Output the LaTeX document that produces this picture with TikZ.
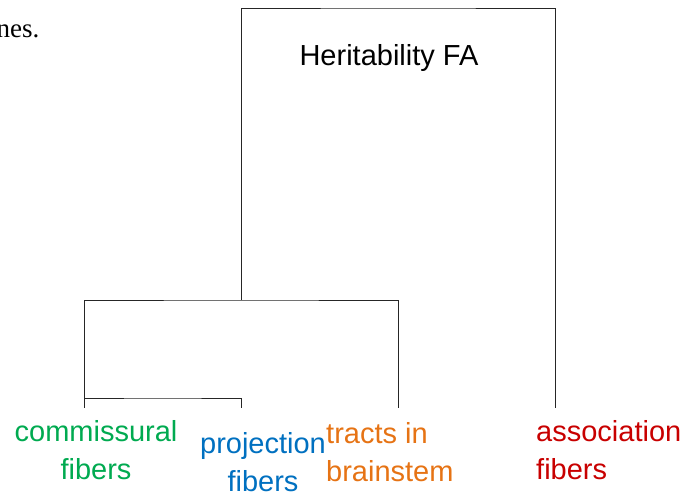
\documentclass[tikz,border=0pt]{standalone}
\usepackage{fontspec}
\setmainfont{Liberation Sans}
\newfontfamily\serifpart{Liberation Serif}
\definecolor{cgreen}{RGB}{0,170,80}
\definecolor{cblue}{RGB}{0,112,192}
\definecolor{corange}{RGB}{230,115,20}
\definecolor{cred}{RGB}{200,0,0}
\tikzset{
  link/.style={draw=black!85, line width=0.9pt},
  leaflabel/.style={inner sep=0pt, font=\fontsize{29}{38}\selectfont},
}
\begin{document}
\begin{tikzpicture}[x=1pt,y=1pt]
\useasboundingbox (0,0) rectangle (686,498);
% leaves
\coordinate (L1) at (84,90);
\coordinate (L2) at (241,90);
\coordinate (L3) at (398,90);
\coordinate (L4) at (555,90);
% joins
\coordinate (J1) at (162.5,100);
\coordinate (J2) at (241,198);
\coordinate (J3) at (398,490);
\draw[link] (L1) |- (J1) -| (L2);
\draw[link] (L1 |- J1) |- (J2) -| (L3);
\draw[link] (J2 -| L2) |- (J3) -| (L4);
% texts
\node[anchor=base east, inner sep=0pt, font=\serifpart\fontsize{27}{32}\selectfont] (cut) at (39.5,460.5) {nes.};
\node[anchor=base, inner sep=0pt, font=\fontsize{29}{36}\selectfont] (title) at (389,432) {Heritability FA};
\node[leaflabel, text=cgreen, align=center, anchor=north] (comm) at (96,78) {commissural\\fibers};
\node[leaflabel, text=cblue, align=center, anchor=north] (proj) at (263,66) {projection\\fibers};
\node[leaflabel, text=corange, align=left, anchor=north west] (tract) at (326,76) {tracts in\\brainstem};
\node[leaflabel, text=cred, align=left, anchor=north west] (assoc) at (536,78) {association\\fibers};
\end{tikzpicture}
\end{document}
